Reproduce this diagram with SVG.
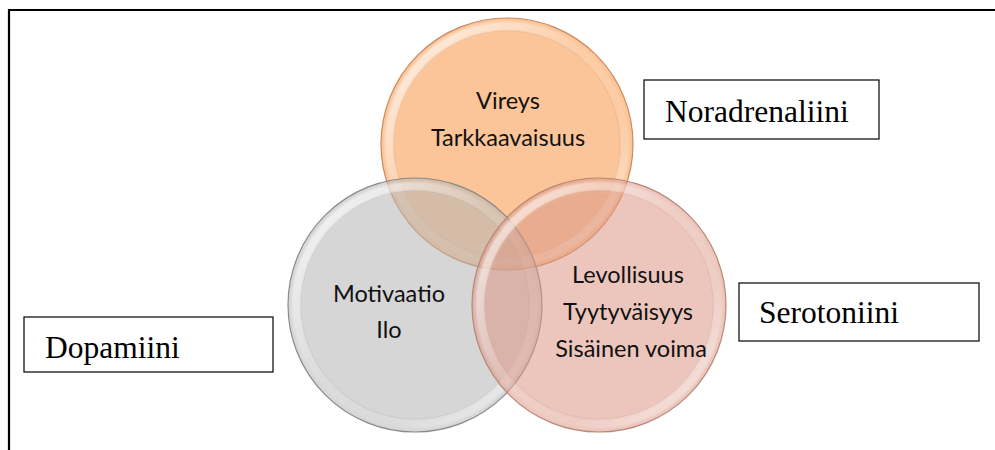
<svg xmlns="http://www.w3.org/2000/svg" width="995" height="450" viewBox="0 0 995 450">
<defs>
<linearGradient id="rim" x1="0" y1="0" x2="1" y2="1">
<stop offset="0" stop-color="#ffffff" stop-opacity="0.8"/>
<stop offset="0.45" stop-color="#ffffff" stop-opacity="0.15"/>
<stop offset="0.7" stop-color="#ffffff" stop-opacity="0.12"/>
<stop offset="1" stop-color="#ffffff" stop-opacity="0.65"/>
</linearGradient>
<filter id="soft" x="-10%" y="-10%" width="120%" height="120%">
<feGaussianBlur stdDeviation="1.2"/>
</filter>
</defs>
<style>
.face{fill-opacity:0.55;stroke-width:1.2}
.rimring{fill:none;stroke:url(#rim);stroke-width:9}
.inner{fill:none;stroke-width:1;stroke-opacity:0.15}
.ct{font-family:Lato,"Open Sans","Liberation Sans",sans-serif;font-size:23.5px;fill:#111;text-anchor:middle}
.box{fill:#fff;stroke:#000;stroke-width:1.2}
.bt{font-family:"Liberation Serif","Times New Roman",serif;font-size:31.5px;fill:#000}
.frame{stroke:#000;stroke-width:2.2;fill:none}
</style>
<rect width="995" height="450" fill="#ffffff"/>
<g id="frame">
<polyline class="frame" points="9,450 9,10 995,10"/>
</g>
<g id="noradrenaliini-circle">
<circle class="face" cx="507" cy="144" r="126" fill="#F79646" stroke="#C88A60"/>
<circle class="rimring" cx="507" cy="144" r="118" filter="url(#soft)"/>
<circle class="inner" cx="507" cy="144" r="113" stroke="#9a6a4a"/>
<text class="ct" x="508" y="109">Vireys</text>
<text class="ct" x="508" y="146">Tarkkaavaisuus</text>
</g>
<g id="dopamiini-circle">
<circle class="face" cx="415" cy="305" r="127" fill="#B4B4B4" stroke="#8a8a8a"/>
<circle class="rimring" cx="415" cy="305" r="119" filter="url(#soft)"/>
<circle class="inner" cx="415" cy="305" r="114" stroke="#777"/>
<text class="ct" x="389" y="302">Motivaatio</text>
<text class="ct" x="389" y="338">Ilo</text>
</g>
<g id="serotoniini-circle">
<circle class="face" cx="599" cy="305" r="127" fill="#DC9785" stroke="#B88878"/>
<circle class="rimring" cx="599" cy="305" r="119" filter="url(#soft)"/>
<circle class="inner" cx="599" cy="305" r="114" stroke="#9a6a5a"/>
<text class="ct" x="628" y="283">Levollisuus</text>
<text class="ct" x="628" y="320">Tyytyväisyys</text>
<text class="ct" x="631" y="357">Sisäinen voima</text>
</g>
<g id="noradrenaliini-label">
<rect class="box" x="644" y="80" width="235" height="59"/>
<text class="bt" x="665" y="122">Noradrenaliini</text>
</g>
<g id="serotoniini-label">
<rect class="box" x="739" y="283" width="240" height="58"/>
<text class="bt" x="759" y="323">Serotoniini</text>
</g>
<g id="dopamiini-label">
<rect class="box" x="24" y="317" width="249" height="55"/>
<text class="bt" x="45" y="358">Dopamiini</text>
</g>
<g id="connectors"></g>
</svg>
